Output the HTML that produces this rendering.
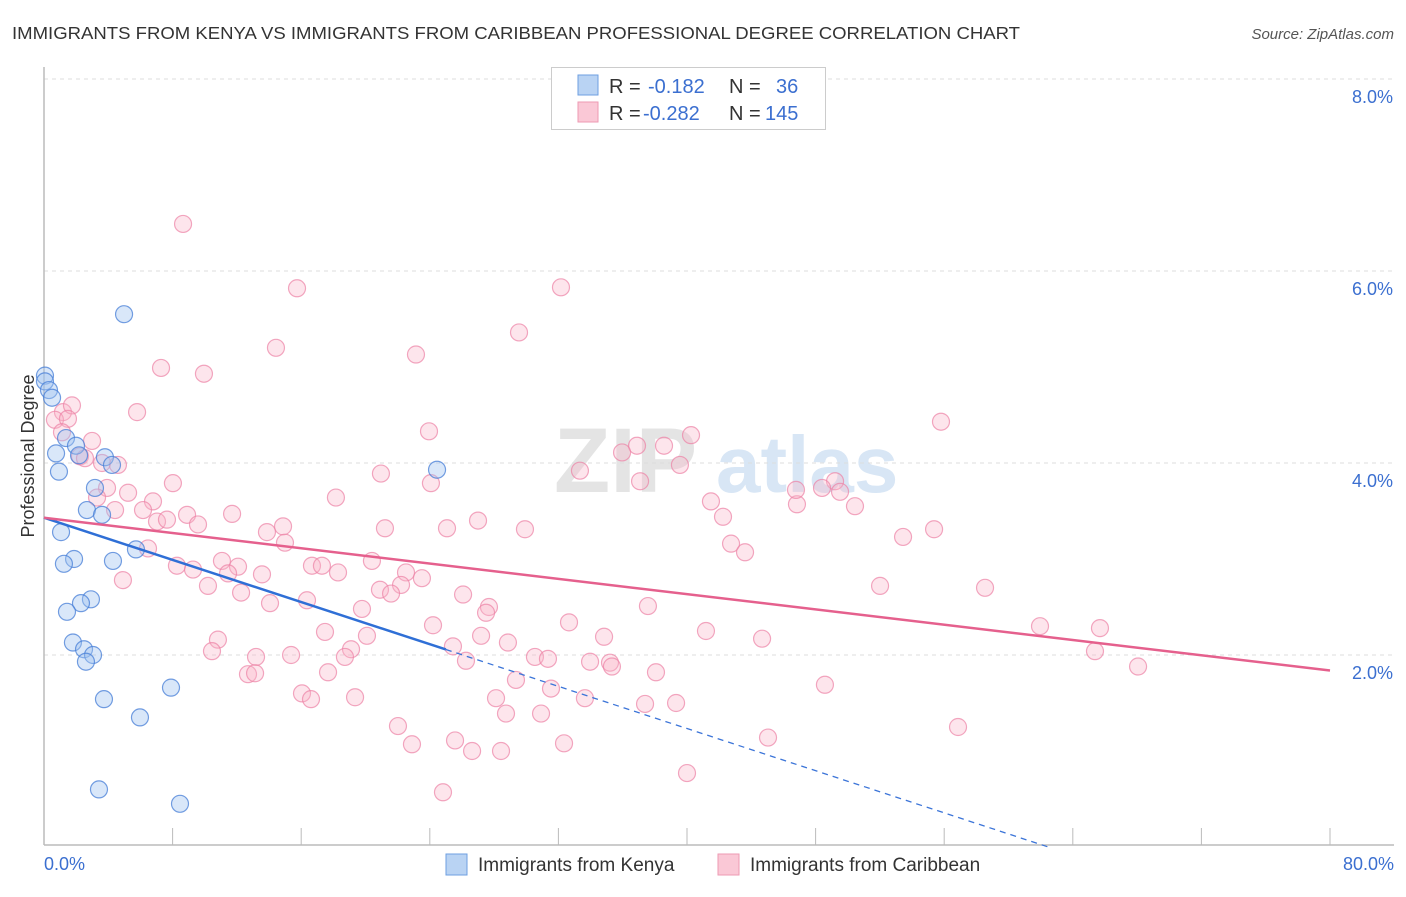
<!DOCTYPE html>
<html><head><meta charset="utf-8">
<style>
html,body{margin:0;padding:0;background:#fff;}
body{width:1406px;height:892px;overflow:hidden;font-family:"Liberation Sans",sans-serif;}
svg text{font-family:"Liberation Sans",sans-serif;}
</style></head>
<body>
<svg id="chart" width="1406" height="892" xmlns="http://www.w3.org/2000/svg">
<text x="12" y="39" font-size="17.5" fill="#333" textLength="1008" lengthAdjust="spacingAndGlyphs">IMMIGRANTS FROM KENYA VS IMMIGRANTS FROM CARIBBEAN PROFESSIONAL DEGREE CORRELATION CHART</text>
<text x="1394" y="39" font-size="15" font-style="italic" fill="#555" text-anchor="end">Source: ZipAtlas.com</text>
<g>
<text x="554" y="492" font-size="92" font-family="Liberation Serif" fill="#e4e4e4" font-weight="bold">ZIP</text>
<text x="716" y="492" font-size="80" fill="#d8e6f5" font-weight="bold">atlas</text>
</g>
<g id="grid"></g>
<g id="axes"></g>
<g id="points"></g>
<g id="trends"></g>
<text transform="translate(34,456) rotate(-90)" font-size="18" fill="#333" text-anchor="middle">Professional Degree</text>
<g>
<rect x="551.5" y="67.5" width="274" height="62" fill="#fff" stroke="#ccc"/>
<rect x="578" y="75" width="20" height="20" fill="#b9d3f3" stroke="#6e9fe0"/>
<rect x="578" y="102" width="20" height="20" fill="#fac8d6" stroke="#ee9ab3"/>
<text x="609" y="93" font-size="20" fill="#333">R =</text>
<text x="648" y="93" font-size="20" fill="#3b6fd0">-0.182</text>
<text x="729" y="93" font-size="20" fill="#333">N =</text>
<text x="776" y="93" font-size="20" fill="#3b6fd0">36</text>
<text x="609" y="120" font-size="20" fill="#333">R =</text>
<text x="643" y="120" font-size="20" fill="#3b6fd0">-0.282</text>
<text x="729" y="120" font-size="20" fill="#333">N =</text>
<text x="765" y="120" font-size="20" fill="#3b6fd0">145</text>
</g>
<g>
<rect x="446" y="854" width="21" height="21" fill="#b9d3f3" stroke="#6e9fe0"/>
<text x="478" y="871" font-size="19" fill="#333">Immigrants from Kenya</text>
<rect x="718" y="854" width="21" height="21" fill="#fac8d6" stroke="#ee9ab3"/>
<text x="750" y="871" font-size="19" fill="#333">Immigrants from Caribbean</text>
</g>
</svg>
<script>
const kenyaX=[0.06,0.06,0.31,0.5,4.98,1.37,1.99,0.75,2.18,3.79,4.23,0.93,24.45,3.17,2.67,3.61,1.06,1.87,1.24,5.72,4.29,2.92,2.3,1.43,1.8,2.49,3.05,2.61,3.73,7.9,5.97,3.42,8.46];
const kenyaY=[4.91,4.85,4.76,4.68,5.55,4.26,4.18,4.1,4.08,4.06,3.98,3.91,3.93,3.74,3.51,3.46,3.28,3.0,2.95,3.1,2.98,2.58,2.54,2.45,2.13,2.06,2.0,1.93,1.54,1.66,1.35,0.6,0.45];
const caribX=[8.65,15.74,32.16,29.55,14.43,23.14,7.28,9.95,5.79,55.8,1.18,1.74,0.68,1.49,23.95,1.12,2.99,38.57,36.89,35.96,40.25,2.24,2.55,3.61,4.6,39.56,20.96,33.34,37.08,8.02,24.07,3.92,5.23,3.3,6.78,18.16,41.49,46.84,49.21,49.52,48.4,50.45,46.78,6.16,8.9,11.7,4.42,27.0,7.03,7.65,9.58,14.87,21.21,25.07,29.92,42.24,53.44,55.37,13.87,14.99,6.47,42.74,43.61,20.4,11.07,8.27,12.07,9.27,11.45,16.67,17.29,18.29,13.56,22.52,23.51,4.91,10.2,22.21,20.9,21.59,12.26,52.01,58.54,16.36,26.07,14.06,27.68,19.78,27.5,37.57,32.66,24.2,17.48,10.82,20.09,27.19,34.84,28.86,41.18,44.67,61.96,65.69,10.45,19.1,25.44,13.19,15.37,18.72,30.54,31.35,33.97,26.25,35.21,65.38,12.69,13.13,17.67,35.33,38.07,68.06,29.36,31.54,48.58,16.05,16.61,19.35,28.12,33.65,37.39,39.32,28.74,30.92,22.02,56.86,45.04,22.89,25.57,26.63,28.43,32.35,40.0,24.82];
const caribY=[6.49,5.82,5.83,5.36,5.2,5.13,4.99,4.93,4.53,4.43,4.53,4.6,4.45,4.46,4.33,4.32,4.23,4.18,4.18,4.11,4.29,4.07,4.05,4.0,3.98,3.98,3.89,3.92,3.81,3.79,3.79,3.74,3.69,3.64,3.6,3.64,3.6,3.57,3.81,3.7,3.74,3.55,3.72,3.51,3.46,3.47,3.51,3.4,3.39,3.41,3.36,3.34,3.32,3.32,3.31,3.44,3.23,3.31,3.28,3.17,3.11,3.16,3.07,2.98,2.98,2.93,2.92,2.89,2.85,2.93,2.93,2.86,2.84,2.86,2.8,2.78,2.72,2.73,2.68,2.64,2.65,2.72,2.7,2.57,2.63,2.54,2.5,2.48,2.44,2.51,2.34,2.31,2.24,2.16,2.2,2.2,2.19,2.13,2.25,2.17,2.3,2.28,2.04,2.06,2.09,1.98,2.0,1.98,1.98,1.96,1.93,1.94,1.92,2.04,1.8,1.81,1.82,1.88,1.82,1.88,1.74,1.65,1.69,1.6,1.54,1.56,1.55,1.55,1.49,1.5,1.39,1.39,1.26,1.25,1.14,1.07,1.11,1.0,1.0,1.08,0.77,0.57];
const yTicks=[2,4,6,8];
const yTickLabels=["2.0%","4.0%","6.0%","8.0%"];
const xTicks=[0,8,16,24,32,40,48,56,64,72,80];
const xEndLabels=["0.0%","80.0%"];
const kenyaTrend=[3.43,-0.0549];   // intercept, slope
const kenyaSolidEnd=25;
const caribTrend=[3.43,-0.0199];

const NS="http://www.w3.org/2000/svg";
const X0=44,X1=1330,Y0=847,PXPERPCT=96;
const sx=v=>X0+(v/80)*(X1-X0);
const sy=v=>Y0-v*PXPERPCT;
function mk(tag,attrs,parent){const e=document.createElementNS(NS,tag);for(const k in attrs)e.setAttribute(k,attrs[k]);parent.appendChild(e);return e;}
const grid=document.getElementById('grid'),axes=document.getElementById('axes'),pts=document.getElementById('points'),tr=document.getElementById('trends');
yTicks.forEach((t,i)=>{
  const l=mk('line',{x1:X0,x2:1394,y1:sy(t),y2:sy(t),stroke:'#ddd','stroke-dasharray':'4,4'},grid);
  
  
  const tx=mk('text',{x:1393,y:sy(t)+24,'font-size':18,fill:'#3b6fd0','text-anchor':'end'},axes);
  tx.textContent=yTickLabels[i];
  
  
});
const ya=mk('line',{x1:X0,x2:X0,y1:67,y2:845,stroke:'#bbb','stroke-width':1.5},axes);


const xa=mk('line',{x1:X0,x2:1394,y1:845,y2:845,stroke:'#bbb','stroke-width':1.5},axes);


xTicks.forEach(t=>{
  const l=mk('line',{x1:sx(t),x2:sx(t),y1:828,y2:845,stroke:'#bbb'},axes);
  
  
});
const xl0=mk('text',{x:44,y:870,'font-size':18,fill:'#3b6fd0'},axes);xl0.textContent=xEndLabels[0];


const xl1=mk('text',{x:1394,y:870,'font-size':18,fill:'#3b6fd0','text-anchor':'end'},axes);xl1.textContent=xEndLabels[1];



caribX.forEach((x,i)=>{
  const c=mk('circle',{cx:sx(x),cy:sy(caribY[i]),r:8.5,fill:'rgba(248,180,200,0.35)',stroke:'rgba(236,130,165,0.7)','stroke-width':1.2},pts);
  
  
});
kenyaX.forEach((x,i)=>{
  const c=mk('circle',{cx:sx(x),cy:sy(kenyaY[i]),r:8.5,fill:'rgba(160,195,240,0.4)',stroke:'rgba(70,125,215,0.75)','stroke-width':1.2},pts);
  
  
});
const kf=x=>kenyaTrend[0]+kenyaTrend[1]*x;
const cf=x=>caribTrend[0]+caribTrend[1]*x;
const zeroX=-kenyaTrend[0]/kenyaTrend[1];
const kd=mk('line',{x1:sx(kenyaSolidEnd),y1:sy(kf(kenyaSolidEnd)),x2:sx(zeroX),y2:sy(0),stroke:'#3b74d8','stroke-width':1.3,'stroke-dasharray':'6,5'},tr);


const ks=mk('line',{x1:sx(0),y1:sy(kf(0)),x2:sx(kenyaSolidEnd),y2:sy(kf(kenyaSolidEnd)),stroke:'#2f6fd6','stroke-width':2.5},tr);


const cl=mk('line',{x1:sx(0),y1:sy(cf(0)),x2:sx(80),y2:sy(cf(80)),stroke:'#e5608d','stroke-width':2.5},tr);


</script>
</body></html>
